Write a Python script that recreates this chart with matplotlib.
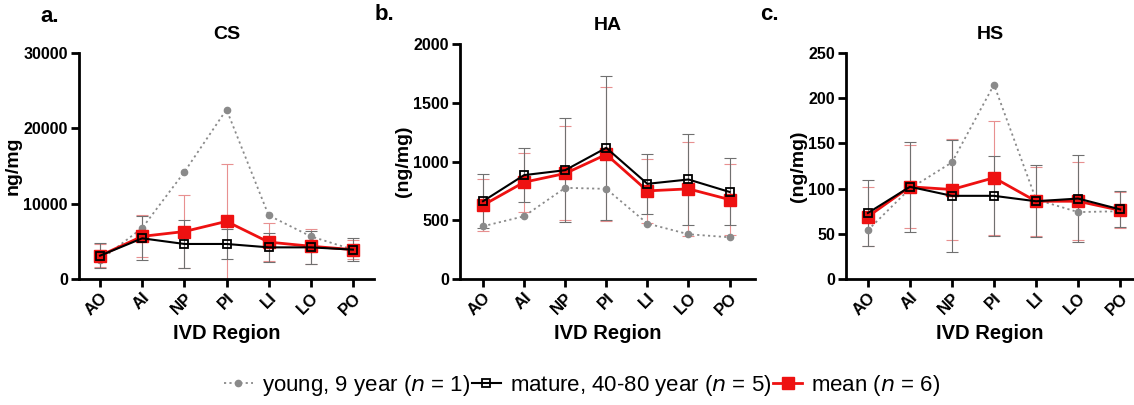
import matplotlib
matplotlib.use("Agg")
import matplotlib.pyplot as plt
from matplotlib.lines import Line2D
import numpy as np

plt.rcParams['font.family'] = ['Liberation Sans', 'DejaVu Sans']

regions = ["AO", "AI", "NP", "PI", "LI", "LO", "PO"]

# CS
cs_young = [2500, 6770, 14200, 22500, 8450, 5660, 3900]
cs_mature = [3100, 5400, 4650, 4650, 4200, 4200, 3900]
cs_mature_sd = [1700, 2900, 3150, 2000, 1900, 2200, 1500]
cs_mean = [3100, 5660, 6300, 7650, 4900, 4350, 3900]
cs_mean_sd = [1500, 2800, 4800, 7600, 2500, 2300, 1300]

# HA
ha_young = [449, 534, 776, 767, 472, 381, 355]
ha_mature = [662, 884, 926, 1116, 810, 847, 741]
ha_mature_sd = [230, 230, 440, 610, 255, 390, 285]
ha_mean = [628, 824, 898, 1060, 750, 767, 676]
ha_mean_sd = [220, 250, 400, 570, 270, 400, 300]

# HS
hs_young = [54, 100, 129, 215, 88, 74, 75]
hs_mature = [73, 102, 92, 92, 86, 89, 77]
hs_mature_sd = [36, 50, 62, 44, 40, 48, 20]
hs_mean = [69, 102, 99, 112, 86, 86, 76]
hs_mean_sd = [33, 46, 56, 63, 38, 43, 20]

panels = [
    dict(label="a.", title="CS", ylabel="ng/mg", young=cs_young, mature=cs_mature,
         msd=cs_mature_sd, mean=cs_mean, meansd=cs_mean_sd, ylim=30000,
         yticks=[0, 10000, 20000, 30000], rect=[79, 374, 53, 279], xl=(-0.5, 6.5)),
    dict(label="b.", title="HA", ylabel="(ng/mg)", young=ha_young, mature=ha_mature,
         msd=ha_mature_sd, mean=ha_mean, meansd=ha_mean_sd, ylim=2000,
         yticks=[0, 500, 1000, 1500, 2000], rect=[460, 755, 44, 279], xl=(-0.56, 6.62)),
    dict(label="c.", title="HS", ylabel="(ng/mg)", young=hs_young, mature=hs_mature,
         msd=hs_mature_sd, mean=hs_mean, meansd=hs_mean_sd, ylim=250,
         yticks=[0, 50, 100, 150, 200, 250], rect=[846, 1134, 53, 279], xl=(-0.52, 6.33)),
]
label_pos = [(40, 17), (375, 15), (760, 15)]

W, H = 1134, 405
fig = plt.figure(figsize=(W / 100, H / 100), dpi=100)

x = np.arange(len(regions))
for p, lp in zip(panels, label_pos):
    l, r, t, b = p["rect"]
    ax = fig.add_axes([l / W, 1 - b / H, (r - l) / W, (b - t) / H])
    ax.errorbar(x, p["mean"], yerr=p["meansd"], fmt='none', ecolor='#e89090',
                elinewidth=0.8, capsize=4, capthick=0.8, zorder=2)
    ax.errorbar(x, p["mature"], yerr=p["msd"], fmt='none', ecolor='#707070',
                elinewidth=0.8, capsize=4, capthick=0.8, zorder=2)
    ax.plot(x, p["young"], linestyle=(0, (1.2, 1.8)), color='#8a8a8a', lw=1.3,
            marker='o', ms=4.5, mfc='#8a8a8a', mec='#8a8a8a', zorder=3)
    ax.plot(x, p["mean"], color='#ee1111', lw=2, marker='s', ms=8.5,
            mfc='#ee1111', mec='#ee1111', zorder=4)
    ax.plot(x, p["mature"], color='black', lw=1.5, marker='s', ms=6,
            mfc='none', mec='black', mew=1.3, zorder=5)
    ax.set_xlim(*p["xl"])
    ax.set_ylim(0, p["ylim"])
    ax.set_yticks(p["yticks"])
    ax.set_yticklabels([str(v) for v in p["yticks"]], fontweight='bold', fontsize=11.5)
    ax.set_xticks(x)
    ax.set_xticklabels(regions, rotation=45, ha='right', rotation_mode='anchor',
                       fontweight='bold', fontsize=12)
    for s in ['top', 'right']:
        ax.spines[s].set_visible(False)
    for s in ['left', 'bottom']:
        ax.spines[s].set_linewidth(2)
    ax.tick_params(width=2, length=6, pad=2)
    ax.set_title(p["title"], fontweight='bold', fontsize=14, pad=10)
    ax.set_xlabel("IVD Region", fontweight='bold', fontsize=14.5, labelpad=4)
    ax.set_ylabel(p["ylabel"], fontweight='bold', fontsize=14, labelpad=1)
    fig.text(lp[0] / W, 1 - lp[1] / H, p["label"], fontweight='bold', fontsize=16,
             ha='left', va='center')

handles = [
    Line2D([], [], linestyle=(0, (1.2, 1.8)), color='#8a8a8a', lw=1.3, marker='o',
           ms=4.5, mfc='#8a8a8a', mec='#8a8a8a'),
    Line2D([], [], color='black', lw=1.5, marker='s', ms=6, mfc='none', mec='black', mew=1.3),
    Line2D([], [], color='#ee1111', lw=2, marker='s', ms=8.5, mfc='#ee1111', mec='#ee1111'),
]
labels = ["young, 9 year ($n$ = 1)", "mature, 40-80 year ($n$ = 5)", "mean ($n$ = 6)"]
fig.legend(handles, labels, loc='center', bbox_to_anchor=(582 / W, 1 - 385 / H),
           ncol=3, frameon=False, fontsize=16, handlelength=1.3, handletextpad=0.4,
           columnspacing=0.1)

fig.savefig("out.png", dpi=100)
